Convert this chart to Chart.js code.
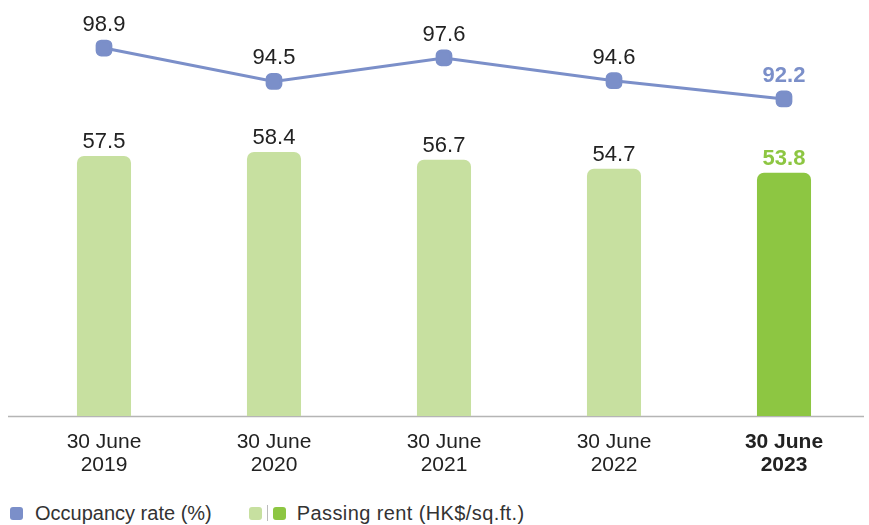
<!DOCTYPE html>
<html><head><meta charset="utf-8">
<script src="https://cdn.jsdelivr.net/npm/chart.js@4.4.0/dist/chart.umd.min.js"></script>
<style>
html,body{margin:0;padding:0;background:#fff;}
#wrap{position:relative;width:869px;height:525px;overflow:hidden;}
#c{position:absolute;left:0;top:0;}
#legend{position:absolute;left:10px;top:502px;height:22px;font-family:"Liberation Sans",Arial,sans-serif;font-size:20px;color:#333;display:flex;align-items:center;white-space:nowrap;}
.sw{display:inline-block;width:13px;height:13px;border-radius:3px;}
.sep{display:inline-block;width:1px;height:16px;background:#bbb;margin:0 5px;}
</style></head>
<body><div id="wrap"><canvas id="c" width="869" height="490"></canvas>
<div id="legend"><span class="sw" style="background:#7b8fc9"></span><span style="margin-left:12px">Occupancy rate (%)</span><span class="sw" style="background:#c7e0a0;margin-left:37px"></span><span class="sep"></span><span class="sw" style="background:#8dc642"></span><span style="margin-left:11px;letter-spacing:0.4px">Passing rent (HK$/sq.ft.)</span></div>
</div>
<script>
const categories = [["30 June","2019"],["30 June","2020"],["30 June","2021"],["30 June","2022"],["30 June","2023"]];
const occupancyRate = [98.9, 94.5, 97.6, 94.6, 92.2];
const passingRent = [57.5, 58.4, 56.7, 54.7, 53.8];
const barColors = ["#c7e0a0","#c7e0a0","#c7e0a0","#c7e0a0","#8dc642"];
const FONT = '"Liberation Sans", Arial, sans-serif';

const labelPlugin = {
  id: 'labels',
  afterDatasetsDraw(chart) {
    const ctx = chart.ctx;
    ctx.save();
    ctx.textAlign = 'center';
    ctx.textBaseline = 'alphabetic';
    const last = categories.length - 1;
    const lineMeta = chart.getDatasetMeta(0);
    lineMeta.data.forEach((p, i) => {
      const bold = i === last;
      ctx.font = (bold ? 'bold ' : '') + '22px ' + FONT;
      ctx.fillStyle = bold ? '#7b8fc9' : '#222';
      ctx.fillText(occupancyRate[i].toFixed(1), p.x, p.y - 17);
    });
    const barMeta = chart.getDatasetMeta(1);
    barMeta.data.forEach((b, i) => {
      const bold = i === last;
      ctx.font = (bold ? 'bold ' : '') + '22px ' + FONT;
      ctx.fillStyle = bold ? '#8dc642' : '#222';
      ctx.fillText(passingRent[i].toFixed(1), b.x, b.y - 8);
    });
    ctx.restore();
  },
  beforeDatasetsDraw(chart) {
    const ctx = chart.ctx;
    const y = chart.chartArea.bottom + 0.5;
    ctx.save();
    ctx.strokeStyle = '#b5b5b5';
    ctx.lineWidth = 1.5;
    ctx.beginPath();
    ctx.moveTo(8, y);
    ctx.lineTo(864, y);
    ctx.stroke();
    ctx.restore();
  }
};

new Chart(document.getElementById('c'), {
  data: {
    labels: categories,
    datasets: [
      {
        type: 'line', label: 'Occupancy rate (%)', data: occupancyRate, yAxisID: 'y2',
        borderColor: '#7b8fc9', backgroundColor: '#7b8fc9', borderWidth: 3,
        pointStyle: 'rectRounded', pointRadius: 8, pointHoverRadius: 8, tension: 0, order: 0, clip: false
      },
      {
        type: 'bar', label: 'Passing rent (HK$/sq.ft.)', data: passingRent, yAxisID: 'y',
        backgroundColor: barColors, borderRadius: {topLeft: 7, topRight: 7, bottomLeft: 0, bottomRight: 0},
        borderSkipped: 'bottom', barPercentage: 0.318, categoryPercentage: 1.0, order: 1
      }
    ]
  },
  options: {
    responsive: false, animation: false,
    layout: {autoPadding: false, padding: {left: 19, right: 0, top: 10, bottom: 0}},
    plugins: {legend: {display: false}, tooltip: {enabled: false}},
    scales: {
      x: {
        grid: {display: false}, border: {display: false},
        ticks: {
          color: '#222', padding: 6, maxRotation: 0,
          font: (c) => ({family: FONT, size: 21, lineHeight: 1.13, weight: c.index === 4 ? 'bold' : 'normal'})
        },
        afterFit: (s) => { s.height = 74; s.paddingLeft = 0; s.paddingRight = 0; }
      },
      y: {display: false, min: 0, max: 89.8},
      y2: {display: false, min: 50.5, max: 103.9}
    }
  },
  plugins: [labelPlugin]
});
</script></body></html>
